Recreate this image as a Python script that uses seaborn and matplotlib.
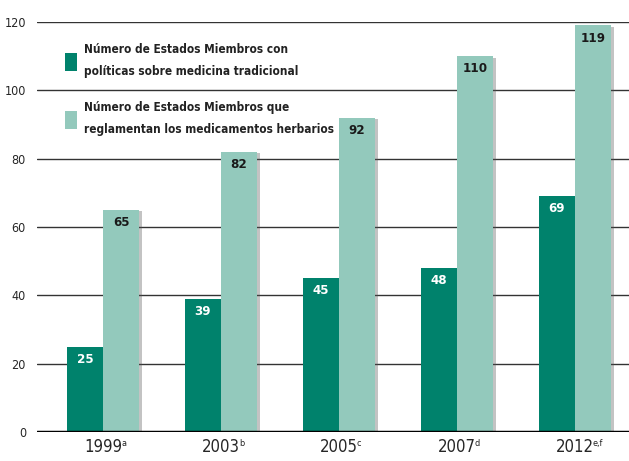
import matplotlib
matplotlib.use("Agg")
import matplotlib.pyplot as plt
import matplotlib.patheffects as pe
import pandas as pd
import seaborn as sns
from matplotlib import font_manager
from matplotlib.patches import Patch

years = ["1999", "2003", "2005", "2007", "2012"]
notes = ["a", "b", "c", "d", "e,f"]
politicas = [25, 39, 45, 48, 69]
reglamentan = [65, 82, 92, 110, 119]
series_names = [
    "Número de Estados Miembros con\npolíticas sobre medicina tradicional",
    "Número de Estados Miembros que\nreglamentan los medicamentos herbarios",
]
colors = ["#00826c", "#93c9bc"]

df = pd.DataFrame({
    "year": years * 2,
    "value": politicas + reglamentan,
    "serie": [series_names[0]] * len(years) + [series_names[1]] * len(years),
})

sns.set_theme(style="white")
names = {f.name for f in font_manager.fontManager.ttflist}
narrow = [n for n in ["Liberation Sans Narrow", "DejaVu Sans"] if n in names]
plt.rcParams["font.family"] = narrow + ["DejaVu Sans"]
plt.rcParams["font.stretch"] = "condensed"

fig = plt.figure(figsize=(6.29, 4.61), dpi=100)
ax = fig.add_axes([37 / 629, 29 / 461, 592 / 629, 410 / 461])

sns.barplot(data=df, x="year", y="value", hue="serie", palette=colors,
            width=0.61, saturation=1, linewidth=0, ax=ax, legend=False)

shadow = [pe.SimplePatchShadow(offset=(2.5, -1), shadow_rgbFace="#555555", alpha=0.35), pe.Normal()]
for cont in ax.containers:
    for bar in cont:
        bar.set_path_effects(shadow)
        bar.set_zorder(2)

ax.set_ylim(0, 120)
ax.set_xlim(-0.56, 4.46)
ax.set_yticks(range(0, 121, 20))
for y in range(20, 121, 20):
    ax.axhline(y, color="#333333", lw=1.0, zorder=0)
ax.axhline(0, color="black", lw=2.5, zorder=3)
for s in ax.spines.values():
    s.set_visible(False)
ax.tick_params(axis="y", length=0, pad=8, labelsize=9)
ax.tick_params(axis="x", length=0, pad=4, labelsize=12)
ax.set_xlabel("")
ax.set_ylabel("")

# superscripts on year labels
for i, n in enumerate(notes):
    ax.annotate(n, xy=(i, 0), xycoords=("data", "axes fraction"),
                xytext=(13, -8), textcoords="offset points",
                fontsize=6.5, ha="left", va="center", color="#222222")

# value labels inside bar tops
for k, cont in enumerate(ax.containers):
    for bar in cont:
        h = bar.get_height()
        ax.text(bar.get_x() + bar.get_width() / 2, h - 1.8, f"{int(h)}",
                ha="center", va="top", fontsize=9.5, fontweight="bold",
                color="white" if k == 0 else "#1a1a1a", zorder=4)

handles = [Patch(facecolor=c, edgecolor="none") for c in colors]
leg = ax.legend(handles, series_names, loc="upper left",
                bbox_to_anchor=(0.03, 0.975), frameon=False,
                fontsize=8.5, handlelength=1.0, handleheight=2.0,
                labelspacing=2.0, handletextpad=0.6)
for t in leg.get_texts():
    t.set_fontweight("bold")
    t.set_color("#222222")
    t.set_linespacing(1.9)

fig.savefig("out.png", dpi=100)
